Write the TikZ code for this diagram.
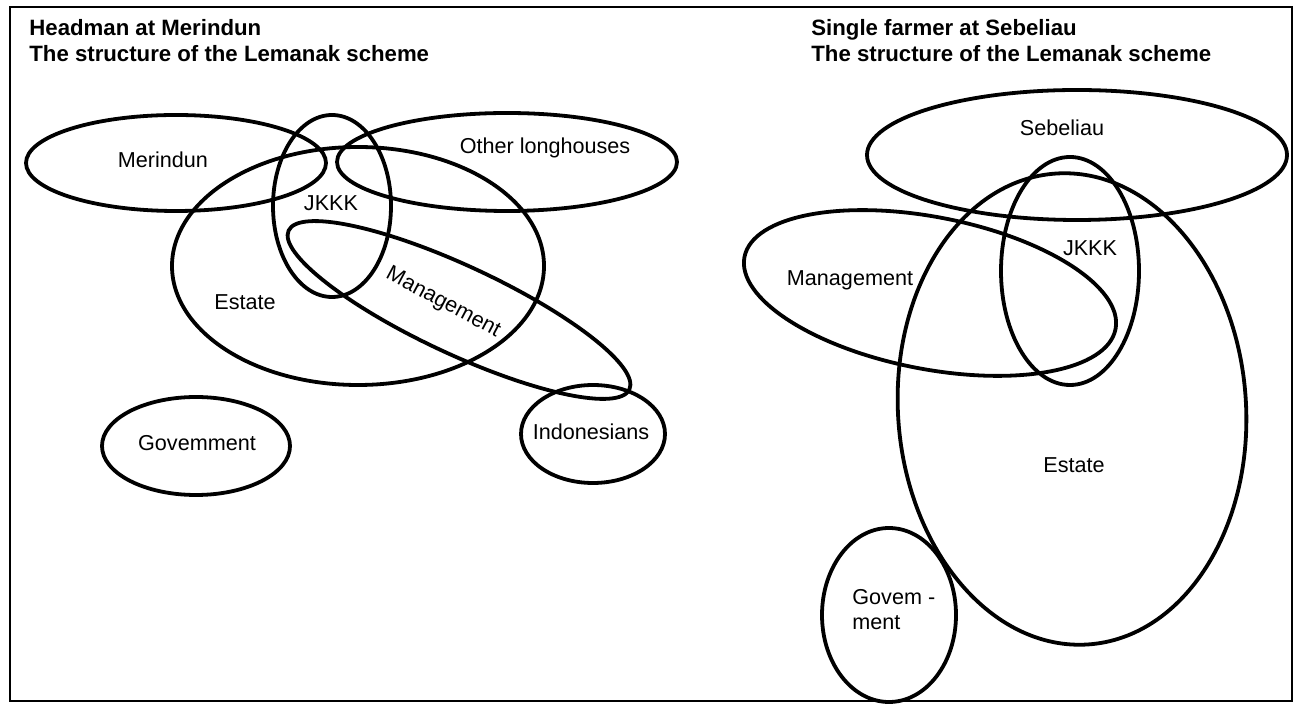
\documentclass[tikz,border=0pt]{standalone}
\usepackage{fontspec}
\setmainfont{Liberation Sans}

\begin{document}
\begin{tikzpicture}[x=0.5pt,y=-0.5pt,
  font=\fontsize{10.8}{12.5}\selectfont,
  grp/.style={line width=1.9pt},
  lbl/.style={inner sep=1pt,align=center},
  ttl/.style={font=\bfseries\fontsize{11.1}{13}\selectfont,inner sep=0pt,anchor=base west}]

\useasboundingbox (0,0) rectangle (1300,704);
\draw[line width=1.3pt] (10,7) rectangle (1292,701);

% --- left panel: headman at Merindun ---
\node[ttl] (hdA) at (29,36) {Headman at Merindun};
\node[ttl] (hdB) at ([yshift=-13pt]hdA.base west) {The structure of the Lemanak scheme};

\draw[grp] (176,163) ellipse [x radius=150, y radius=48];
\draw[grp] (507,162) ellipse [x radius=170, y radius=49];
\draw[grp] (332,206) ellipse [x radius=59, y radius=91];
\draw[grp] (358,266) ellipse [x radius=186, y radius=119];
\draw[grp,rotate around={-25:(459,310)}] (459,310) ellipse [x radius=188, y radius=44];
\draw[grp] (593,434) ellipse [x radius=72, y radius=49];
\draw[grp] (196,446) ellipse [x radius=94, y radius=49];

\node[lbl] (merL) at (163,160) {Merindun};
\node[lbl] (othL) at (545,148) {Other longhouses};
\node[lbl] (jkL)  at (331,203) {JKKK};
\node[lbl] (estL) at (245,302) {Estate};
\node[lbl,rotate=-28] (mgL) at (443,303) {Management};
\node[lbl] (govL) at (197,443) {Govemment};
\node[lbl] (indL) at (591,432) {Indonesians};

% --- right panel: single farmer at Sebeliau ---
\node[ttl] (hdC) at (811,36) {Single farmer at Sebeliau};
\node[ttl] (hdD) at ([yshift=-13pt]hdC.base west) {The structure of the Lemanak scheme};

\draw[grp] (1077,155) ellipse [x radius=210, y radius=65];
\draw[grp] (1070,271) ellipse [x radius=69, y radius=114];
\draw[grp,rotate around={4:(1072,409)}] (1072,409) ellipse [x radius=174, y radius=236];
\draw[grp,rotate around={-11:(930,293)}] (930,293) ellipse [x radius=189, y radius=76];
\draw[grp] (889,615) ellipse [x radius=67, y radius=87];

\node[lbl] (sebR) at (1062,128) {Sebeliau};
\node[lbl] (jkR)  at (1090,248) {JKKK};
\node[lbl] (mgR)  at (850,280) {Management};
\node[lbl] (estR) at (1074,465) {Estate};
\node[lbl,align=left,anchor=west] (govR) at (850,610) {Govem -\\ment};
\end{tikzpicture}
\end{document}
